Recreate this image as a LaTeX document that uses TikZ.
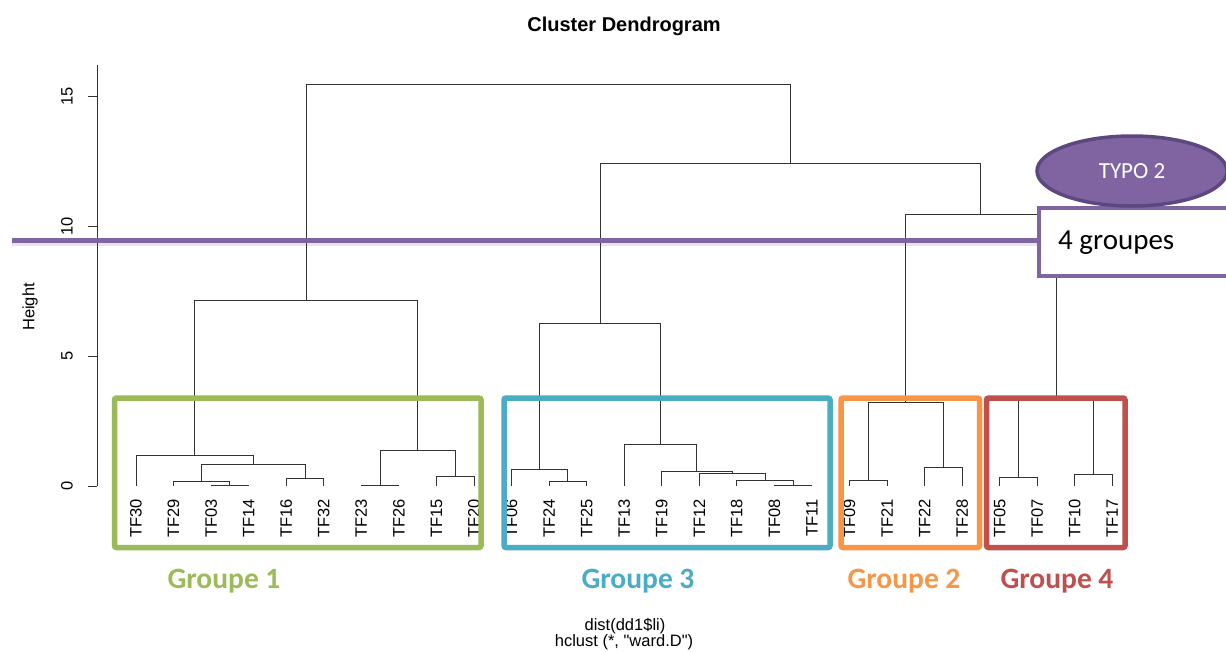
\documentclass[tikz,border=0pt]{standalone}
\usepackage{fontspec}
\newfontfamily\rfont{Liberation Sans}
\newfontfamily\officefont{Carlito}
\usetikzlibrary{calc, shapes.geometric}
\definecolor{typopurple}{RGB}{128, 100, 162}
\definecolor{typoborder}{RGB}{92, 72, 126}
\definecolor{grpgreen}{RGB}{155, 187, 89}
\definecolor{grpblue}{RGB}{75, 172, 198}
\definecolor{grporange}{RGB}{247, 150, 70}
\definecolor{grpred}{RGB}{192, 80, 77}
\tikzset{
    branch/.style={line width=0.9pt, black!80},
    leaflab/.style={rotate=90, anchor=east, inner sep=0pt,
        font=\rfont\fontsize{16.5}{16.5}\selectfont},
    axislab/.style={rotate=90, inner sep=0pt,
        font=\rfont\fontsize{16.5}{16.5}\selectfont},
    sublab/.style={anchor=base, inner sep=0pt,
        font=\rfont\fontsize{16.5}{16.5}\selectfont},
    grpbox/.style={line width=5.5pt, rounded corners=2pt},
    grplab/.style={anchor=base, inner sep=0pt,
        font=\officefont\bfseries\fontsize{29.5}{29.5}\selectfont},
    cutline/.style={line width=5pt, typopurple},
}
\newcommand{\joinclus}[4]{%
    \path let \p1=(#2), \p2=(#3) in coordinate (#1) at ({0.5*\x1+0.5*\x2}, #4);
    \draw[branch] (#2) |- (#1) -| (#3);
}

\begin{document}
\begin{tikzpicture}[x=1pt, y=-1pt]
    \clip (0,0) rectangle (1226,651);
    \fill[white] (0,0) rectangle (1226,651);
    \node[font=\rfont\bfseries\fontsize{20}{20}\selectfont] (title)
        at (624,26) {Cluster Dendrogram};
    \node[axislab] (ylab) at (30,307) {Height};
    \node[sublab] (distlab) at (625,630) {dist(dd1\$li)};
    \node[sublab] (hclab) at (624,646) {hclust (*, "ward.D")};

    \begin{scope}[shift={(0,486)}, y=26pt]
        % axis
        \draw[branch] (97,0) -- (97,16.2);
        \foreach \h in {0,5,10,15} {
            \draw[branch] (88,\h) -- (97,\h);
            \node[axislab] (tick\h) at (67,\h) {\h};
        }
        % leaves
        \foreach \lab [count=\i from 0] in {TF30, TF29, TF03, TF14, TF16,
            TF32, TF23, TF26, TF15, TF20, TF06, TF24, TF25, TF13, TF19, TF12,
            TF18, TF08, TF11, TF09, TF21, TF22, TF28, TF05, TF07, TF10, TF17} {
            \coordinate (\lab) at ({136+37.55*\i},0);
            \node[leaflab] (n\lab) at ({136+37.55*\i},-0.5) {\lab};
        }
        % groupe 1
        \joinclus{g1a}{TF03}{TF14}{0.02}
        \joinclus{g1b}{TF29}{g1a}{0.16}
        \joinclus{g1c}{TF16}{TF32}{0.28}
        \joinclus{g1d}{g1b}{g1c}{0.81}
        \joinclus{g1e}{TF30}{g1d}{1.17}
        \joinclus{g1f}{TF23}{TF26}{0.03}
        \joinclus{g1g}{TF15}{TF20}{0.36}
        \joinclus{g1h}{g1f}{g1g}{1.36}
        \joinclus{gA}{g1e}{g1h}{7.12}
        % groupe 3
        \joinclus{g3a}{TF24}{TF25}{0.17}
        \joinclus{g3b}{TF06}{g3a}{0.64}
        \joinclus{g3c}{TF08}{TF11}{0.02}
        \joinclus{g3d}{TF18}{g3c}{0.23}
        \joinclus{g3e}{TF12}{g3d}{0.49}
        \joinclus{g3f}{TF19}{g3e}{0.55}
        \joinclus{g3g}{TF13}{g3f}{1.58}
        \joinclus{gC}{g3b}{g3g}{6.27}
        % groupes 2 et 4
        \joinclus{g2a}{TF09}{TF21}{0.2}
        \joinclus{g2b}{TF22}{TF28}{0.72}
        \joinclus{gB}{g2a}{g2b}{3.2}
        \joinclus{g4a}{TF05}{TF07}{0.32}
        \joinclus{g4b}{TF10}{TF17}{0.43}
        \joinclus{gD}{g4a}{g4b}{3.4}
        \joinclus{gBD}{gB}{gD}{10.46}
        \joinclus{gCBD}{gC}{gBD}{12.42}
        \joinclus{root}{gA}{gCBD}{15.46}
    \end{scope}

    % groupes
    \draw[grpbox, grpgreen] (114.5,398) rectangle (481,547.5);
    \draw[grpbox, grpblue] (504,398) rectangle (830,547.5);
    \draw[grpbox, grporange] (841,398) rectangle (979.5,547.5);
    \draw[grpbox, grpred] (986.5,398) rectangle (1125,547.5);
    \node[grplab, grpgreen] (lab1) at (224,588) {Groupe 1};
    \node[grplab, grpblue] (lab3) at (638,588) {Groupe 3};
    \node[grplab, grporange] (lab2) at (904,588) {Groupe 2};
    \node[grplab, grpred] (lab4) at (1057,588) {Groupe 4};

    % coupure
    \node[draw=typopurple, fill=white, line width=3.5pt, anchor=west,
        minimum width=220pt, minimum height=68pt] (cutbox) at (1037,242) {};
    \node[anchor=base west, inner sep=0pt,
        font=\officefont\fontsize{29}{29}\selectfont] (cuttext)
        at (1058,249) {4 groupes};
    \coordinate (cutstart) at (12,240);
    \draw[line width=4pt, black, opacity=0.1] ([yshift=-4pt]cutstart)
        -- ([yshift=-4pt]cutstart -| cutbox.west);
    \draw[cutline] (cutstart) -- (cutstart -| cutbox.west);
    \node[ellipse, fill=typopurple, draw=typoborder, line width=3.5pt,
        minimum width=190pt, minimum height=70pt, inner sep=0pt, text=white,
        font=\officefont\fontsize{23}{23}\selectfont] (typo)
        at (1132,171) {TYPO 2};
\end{tikzpicture}
\end{document}
